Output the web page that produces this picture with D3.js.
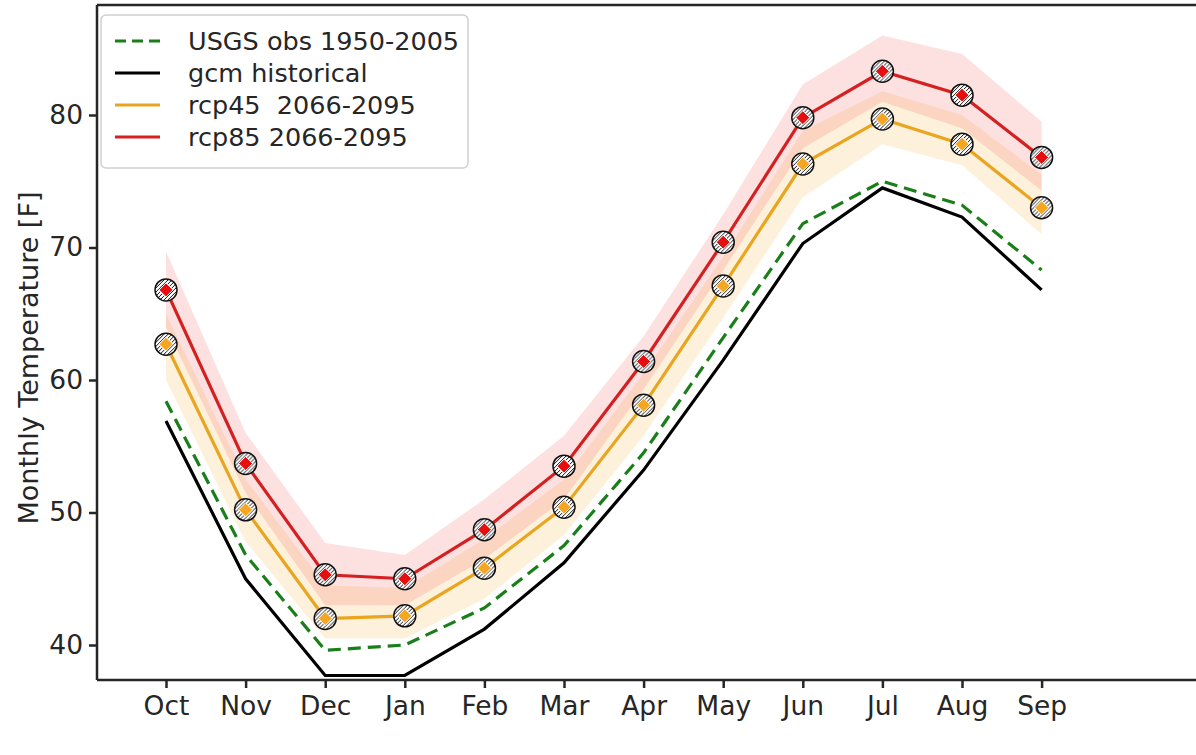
<!DOCTYPE html>
<html>
<head>
<meta charset="utf-8">
<script src="https://cdn.jsdelivr.net/npm/d3@7"></script>
<style>
  body { margin: 0; background: #fff; }
  svg { font-family: "DejaVu Sans", sans-serif; }
</style>
</head>
<body>
<svg width="1196" height="755"></svg>
<script>
let months = ['Oct', 'Nov', 'Dec', 'Jan', 'Feb', 'Mar', 'Apr', 'May', 'Jun', 'Jul', 'Aug', 'Sep'];
let yTicks = [40, 50, 60, 70, 80];

let obs = [58.4, 46.8, 39.6, 40.0, 42.8, 47.5, 54.5, 63.2, 71.8, 75.0, 73.2, 68.3];
let gcmHist = [56.9, 45.0, 37.7, 37.7, 41.2, 46.2, 53.2, 61.5, 70.3, 74.5, 72.3, 66.8];
let rcp45 = [62.7, 50.2, 42.0, 42.2, 45.8, 50.4, 58.1, 67.1, 76.3, 79.7, 77.8, 73.0];
let rcp85 = [66.8, 53.7, 45.3, 45.0, 48.7, 53.5, 61.4, 70.4, 79.8, 83.3, 81.5, 76.8];

let rcp45Low = [60.0, 47.8, 40.5, 40.5, 43.5, 48.3, 55.8, 64.7, 73.8, 77.8, 76.2, 71.0];
let rcp45High = [65.0, 52.5, 44.5, 44.3, 48.0, 52.5, 60.5, 69.3, 78.8, 81.8, 80.0, 75.5];
let rcp85Low = [64.0, 51.5, 43.0, 43.0, 46.5, 51.0, 59.3, 68.3, 77.5, 81.0, 79.0, 74.3];
let rcp85High = [69.7, 56.0, 47.7, 46.8, 51.0, 55.8, 63.3, 72.5, 82.3, 86.0, 84.6, 79.5];

let legendLabels = ['USGS obs 1950-2005', 'gcm historical', 'rcp45  2066-2095', 'rcp85 2066-2095'];

let svg = d3.select('svg');
let padLeft = 97, padBottom = 680, padTop = 5, padRight = 1196;
let axisColor = '#262626';

let xScale = d3.scaleLinear().domain([0, 11]).range([166, 1041.6]);
let yScale = d3.scaleLinear().domain([40, 80]).range([645, 115]);

// hatch for the circle markers
let defs = svg.append('defs');
let pat = defs.append('pattern')
    .attr('id', 'hatch')
    .attr('patternUnits', 'userSpaceOnUse')
    .attr('width', 4).attr('height', 4);
pat.append('rect').attr('width', 4).attr('height', 4).attr('fill', '#fff');
pat.append('path')
    .attr('d', 'M-1,1 l2,-2 M0,4 l4,-4 M3,5 l2,-2')
    .attr('stroke', '#111').attr('stroke-width', 1);

let plot = svg.append('g');

let band = (lo, hi) => d3.area()
    .x((d, i) => xScale(i))
    .y0((d, i) => yScale(lo[i]))
    .y1((d, i) => yScale(hi[i]))(months);

plot.append('path').attr('d', band(rcp45Low, rcp45High))
    .attr('fill', '#f5a623').attr('fill-opacity', 0.16);
plot.append('path').attr('d', band(rcp85Low, rcp85High))
    .attr('fill', '#ee2222').attr('fill-opacity', 0.14);

let line = d3.line().x((d, i) => xScale(i)).y(d => yScale(d));

let series = [
    { vals: obs, color: '#1a7f1a', dash: '13,7' },
    { vals: gcmHist, color: '#000', dash: null },
    { vals: rcp45, color: '#eaa520', dash: null },
    { vals: rcp85, color: '#d42020', dash: null }
];

series.forEach(s => {
    plot.append('path')
        .attr('d', line(s.vals))
        .attr('fill', 'none')
        .attr('stroke', s.color)
        .attr('stroke-width', 3.2)
        .attr('stroke-dasharray', s.dash);
});

// markers
[[rcp45, '#f5a623'], [rcp85, '#e60f0f']].forEach(([vals, col]) => {
    let g = plot.selectAll(null).data(vals).enter().append('g')
        .attr('transform', (d, i) => 'translate(' + xScale(i) + ',' + yScale(d) + ')');
    g.append('circle').attr('r', 11)
        .attr('fill', 'url(#hatch)')
        .attr('stroke', '#111').attr('stroke-width', 1.5);
    g.append('path').attr('d', 'M0,-7L7,0L0,7L-7,0Z')
        .attr('fill', col).attr('stroke', '#fff').attr('stroke-width', 1);
});

// spines
svg.append('line').attr('x1', padLeft).attr('x2', padRight).attr('y1', padTop).attr('y2', padTop)
    .attr('stroke', axisColor).attr('stroke-width', 2.5);

let xAxis = d3.axisBottom(xScale)
    .tickValues(d3.range(12))
    .tickFormat(i => months[i])
    .tickSize(8).tickPadding(8);
let yAxis = d3.axisLeft(yScale)
    .tickValues(yTicks)
    .tickSize(8).tickPadding(6);

let gx = svg.append('g').attr('transform', 'translate(0,' + padBottom + ')').call(xAxis);
let gy = svg.append('g').attr('transform', 'translate(' + padLeft + ',0)').call(yAxis);

[gx, gy].forEach(g => {
    g.select('.domain').remove();
    g.selectAll('.tick line').attr('stroke', axisColor).attr('stroke-width', 2.5);
    g.selectAll('.tick text').attr('fill', axisColor).attr('font-size', 26.5)
        .attr('font-family', '"DejaVu Sans", sans-serif');
});

svg.append('line').attr('x1', padLeft).attr('x2', padRight).attr('y1', padBottom).attr('y2', padBottom)
    .attr('stroke', axisColor).attr('stroke-width', 2.5);
svg.append('line').attr('x1', padLeft).attr('x2', padLeft).attr('y1', padTop).attr('y2', padBottom)
    .attr('stroke', axisColor).attr('stroke-width', 2.5);

svg.append('text')
    .attr('transform', 'translate(30,358) rotate(-90)')
    .attr('text-anchor', 'middle')
    .attr('dominant-baseline', 'middle')
    .attr('font-size', 27)
    .attr('fill', axisColor)
    .text('Monthly Temperature [F]');

// legend
let leg = svg.append('g');
leg.append('rect')
    .attr('x', 101).attr('y', 15).attr('width', 367).attr('height', 153)
    .attr('rx', 5).attr('fill', '#fff').attr('fill-opacity', 0.85)
    .attr('stroke', '#d0d0d0').attr('stroke-width', 1.5);

legendLabels.forEach((lab, i) => {
    let y = 41 + i * 32;
    let s = series[i];
    leg.append('line').attr('x1', 115).attr('x2', 160).attr('y1', y).attr('y2', y)
        .attr('stroke', s.color).attr('stroke-width', 3)
        .attr('stroke-dasharray', s.dash ? '11,6' : null);
    leg.append('text').attr('x', 188).attr('y', y)
        .attr('dominant-baseline', 'central')
        .attr('font-size', 25.5).attr('fill', axisColor)
        .style('white-space', 'pre')
        .text(lab);
});
</script>
</body>
</html>
